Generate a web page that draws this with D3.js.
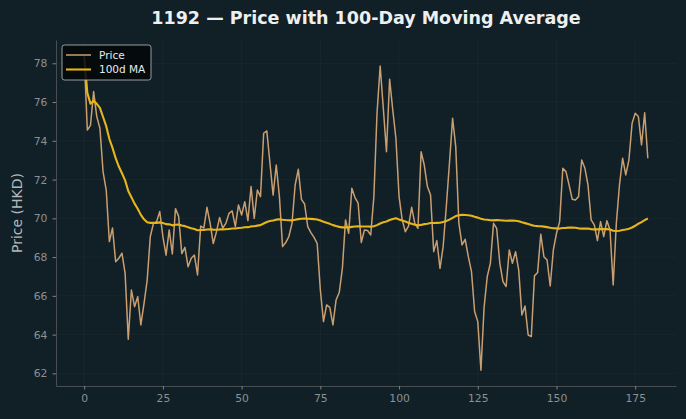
<!DOCTYPE html>
<html>
<head>
<meta charset="utf-8">
<script src="https://cdn.jsdelivr.net/npm/d3@7"></script>
<style>
  html, body { margin: 0; padding: 0; background: #111f26; }
  svg { display: block; font-family: "DejaVu Sans", sans-serif; }
</style>
</head>
<body>
<svg id="chart" width="686" height="419"></svg>
<script>
// daily closes (index 0..179)
const price = [
  78.39, 74.56, 74.80, 76.54, 75.25, 74.65, 72.40, 71.46, 68.80, 69.50,
  67.76, 67.94, 68.20, 67.16, 63.76, 66.30, 65.44, 65.96, 64.50, 65.60,
  66.80, 69.06, 69.74, 69.83, 70.35, 69.06, 68.10, 69.40, 68.16, 70.50,
  70.10, 68.18, 68.50, 67.50, 67.94, 68.10, 67.08, 69.60, 69.50, 70.57,
  69.74, 68.70, 69.30, 70.04, 69.50, 69.74, 70.26, 70.38, 69.57, 70.69,
  70.17, 70.86, 69.88, 71.64, 70.00, 71.46, 71.12, 74.39, 74.51, 72.84,
  71.20, 72.75, 71.12, 68.54, 68.75, 69.06, 69.74, 71.72, 72.53, 70.98,
  70.74, 69.57, 69.26, 69.02, 68.70, 66.30, 64.67, 65.53, 65.41, 64.50,
  65.79, 66.17, 67.42, 69.92, 69.23, 71.55, 71.07, 70.78, 68.75, 69.40,
  69.37, 69.14, 71.12, 75.42, 77.86, 75.68, 73.44, 77.18, 75.59, 74.13,
  71.12, 69.92, 69.31, 69.60, 70.57, 69.74, 69.48, 73.44, 72.75, 71.64,
  71.20, 68.28, 68.85, 67.42, 68.54, 70.60, 72.84, 75.16, 73.70, 69.74,
  68.63, 68.92, 68.02, 67.25, 65.19, 64.67, 62.16, 65.40, 66.99, 67.68,
  69.74, 69.48, 67.68, 66.73, 66.48, 68.37, 67.68, 68.28, 67.33, 65.01,
  65.48, 63.98, 63.90, 67.03, 67.20, 69.18, 68.02, 67.85, 66.51, 68.37,
  69.23, 69.83, 72.58, 72.41, 71.72, 70.98, 70.95, 71.12, 73.01, 72.60,
  71.72, 69.92, 69.66, 68.85, 69.83, 69.06, 69.88, 69.40, 66.56, 69.74,
  71.72, 73.10, 72.24, 73.01, 74.90, 75.42, 75.25, 73.79, 75.45, 73.10
];
const maWindow = 100;
const xTicks = [0, 25, 50, 75, 100, 125, 150, 175];
const yTicks = [62, 64, 66, 68, 70, 72, 74, 76, 78];

const chartTitle = "1192 \u2014 Price with 100-Day Moving Average";
const yTitle = "Price (HKD)";
const seriesNames = ["Price", "100d MA"];
const colors = { price: "#c99f72", ma: "#e6b51b" };

// rolling mean, min periods 1
const ma = price.map((_, i) => d3.mean(price.slice(Math.max(0, i - maWindow + 1), i + 1)));

const svg = d3.select("#chart"),
    width = +svg.attr("width"),
    height = +svg.attr("height"),
    margin = { top: 40, right: 10, bottom: 33, left: 56 };

const n = price.length;
const xPad = (n - 1) * 0.05;
const yMin = d3.min(price), yMax = d3.max(price), yPad = (yMax - yMin) * 0.05;

const x = d3.scaleLinear()
    .domain([-xPad, n - 1 + xPad])
    .range([margin.left, width - margin.right]);
const y = d3.scaleLinear()
    .domain([yMin - yPad, yMax + yPad])
    .range([height - margin.bottom, margin.top]);

svg.append("rect").attr("width", width).attr("height", height).attr("fill", "#111f26");

// grid
let grid = svg.append("g").attr("stroke", "#ffffff").attr("stroke-opacity", 0.045).attr("stroke-width", 0.8);
grid.selectAll(".gx").data(xTicks).enter().append("line")
    .attr("x1", d => x(d)).attr("x2", d => x(d))
    .attr("y1", margin.top).attr("y2", height - margin.bottom);
grid.selectAll(".gy").data(yTicks).enter().append("line")
    .attr("y1", d => y(d)).attr("y2", d => y(d))
    .attr("x1", margin.left).attr("x2", width - margin.right);

// axes
let xAxis = svg.append("g")
    .attr("transform", "translate(0," + (height - margin.bottom) + ")")
    .call(d3.axisBottom(x).tickValues(xTicks).tickSize(3.5).tickPadding(5).tickSizeOuter(0));
let yAxis = svg.append("g")
    .attr("transform", "translate(" + margin.left + ",0)")
    .call(d3.axisLeft(y).tickValues(yTicks).tickSize(3.5).tickPadding(5).tickSizeOuter(0));

[xAxis, yAxis].forEach(a => {
    a.select(".domain").attr("stroke", "#474f54").attr("stroke-width", 1);
    a.selectAll(".tick line").attr("stroke", "#7d8488");
    a.selectAll(".tick text").attr("fill", "#8b9194").attr("font-size", 10.8)
        .attr("font-family", "DejaVu Sans");
});

// lines
let line = d3.line().x((d, i) => x(i)).y(d => y(d));

svg.append("path").datum(price)
    .attr("fill", "none").attr("stroke", colors.price).attr("stroke-width", 1.5)
    .attr("stroke-linejoin", "round").attr("d", line);

svg.append("path").datum(ma)
    .attr("fill", "none").attr("stroke", colors.ma).attr("stroke-width", 2.1)
    .attr("stroke-linejoin", "round").attr("d", line);

// title and labels
svg.append("text")
    .attr("x", (margin.left + width - margin.right) / 2).attr("y", 24)
    .attr("text-anchor", "middle").attr("fill", "#eef0f0")
    .attr("font-size", 17.5).attr("font-weight", "bold")
    .text(chartTitle);

svg.append("text")
    .attr("transform", "translate(22," + ((margin.top + height - margin.bottom) / 2) + ") rotate(-90)")
    .attr("text-anchor", "middle").attr("fill", "#b3b8ba")
    .attr("font-size", 14)
    .text(yTitle);

// legend
let legend = svg.append("g").attr("transform", "translate(62,45)");
legend.append("rect")
    .attr("width", 89).attr("height", 35).attr("rx", 2.5)
    .attr("fill", "#04090b").attr("fill-opacity", 0.9)
    .attr("stroke", "#a9adaf").attr("stroke-width", 0.9);

let entries = legend.selectAll(".entry").data(seriesNames).enter().append("g")
    .attr("transform", (d, i) => "translate(0," + (10 + i * 14.5) + ")");
entries.append("line")
    .attr("x1", 4).attr("x2", 29)
    .attr("stroke", (d, i) => i === 0 ? colors.price : colors.ma)
    .attr("stroke-width", (d, i) => i === 0 ? 1.5 : 2.1);
entries.append("text")
    .attr("x", 37).attr("y", 3.8)
    .attr("fill", "#e8eaeb").attr("font-size", 10.5)
    .text(d => d);
</script>
</body>
</html>
